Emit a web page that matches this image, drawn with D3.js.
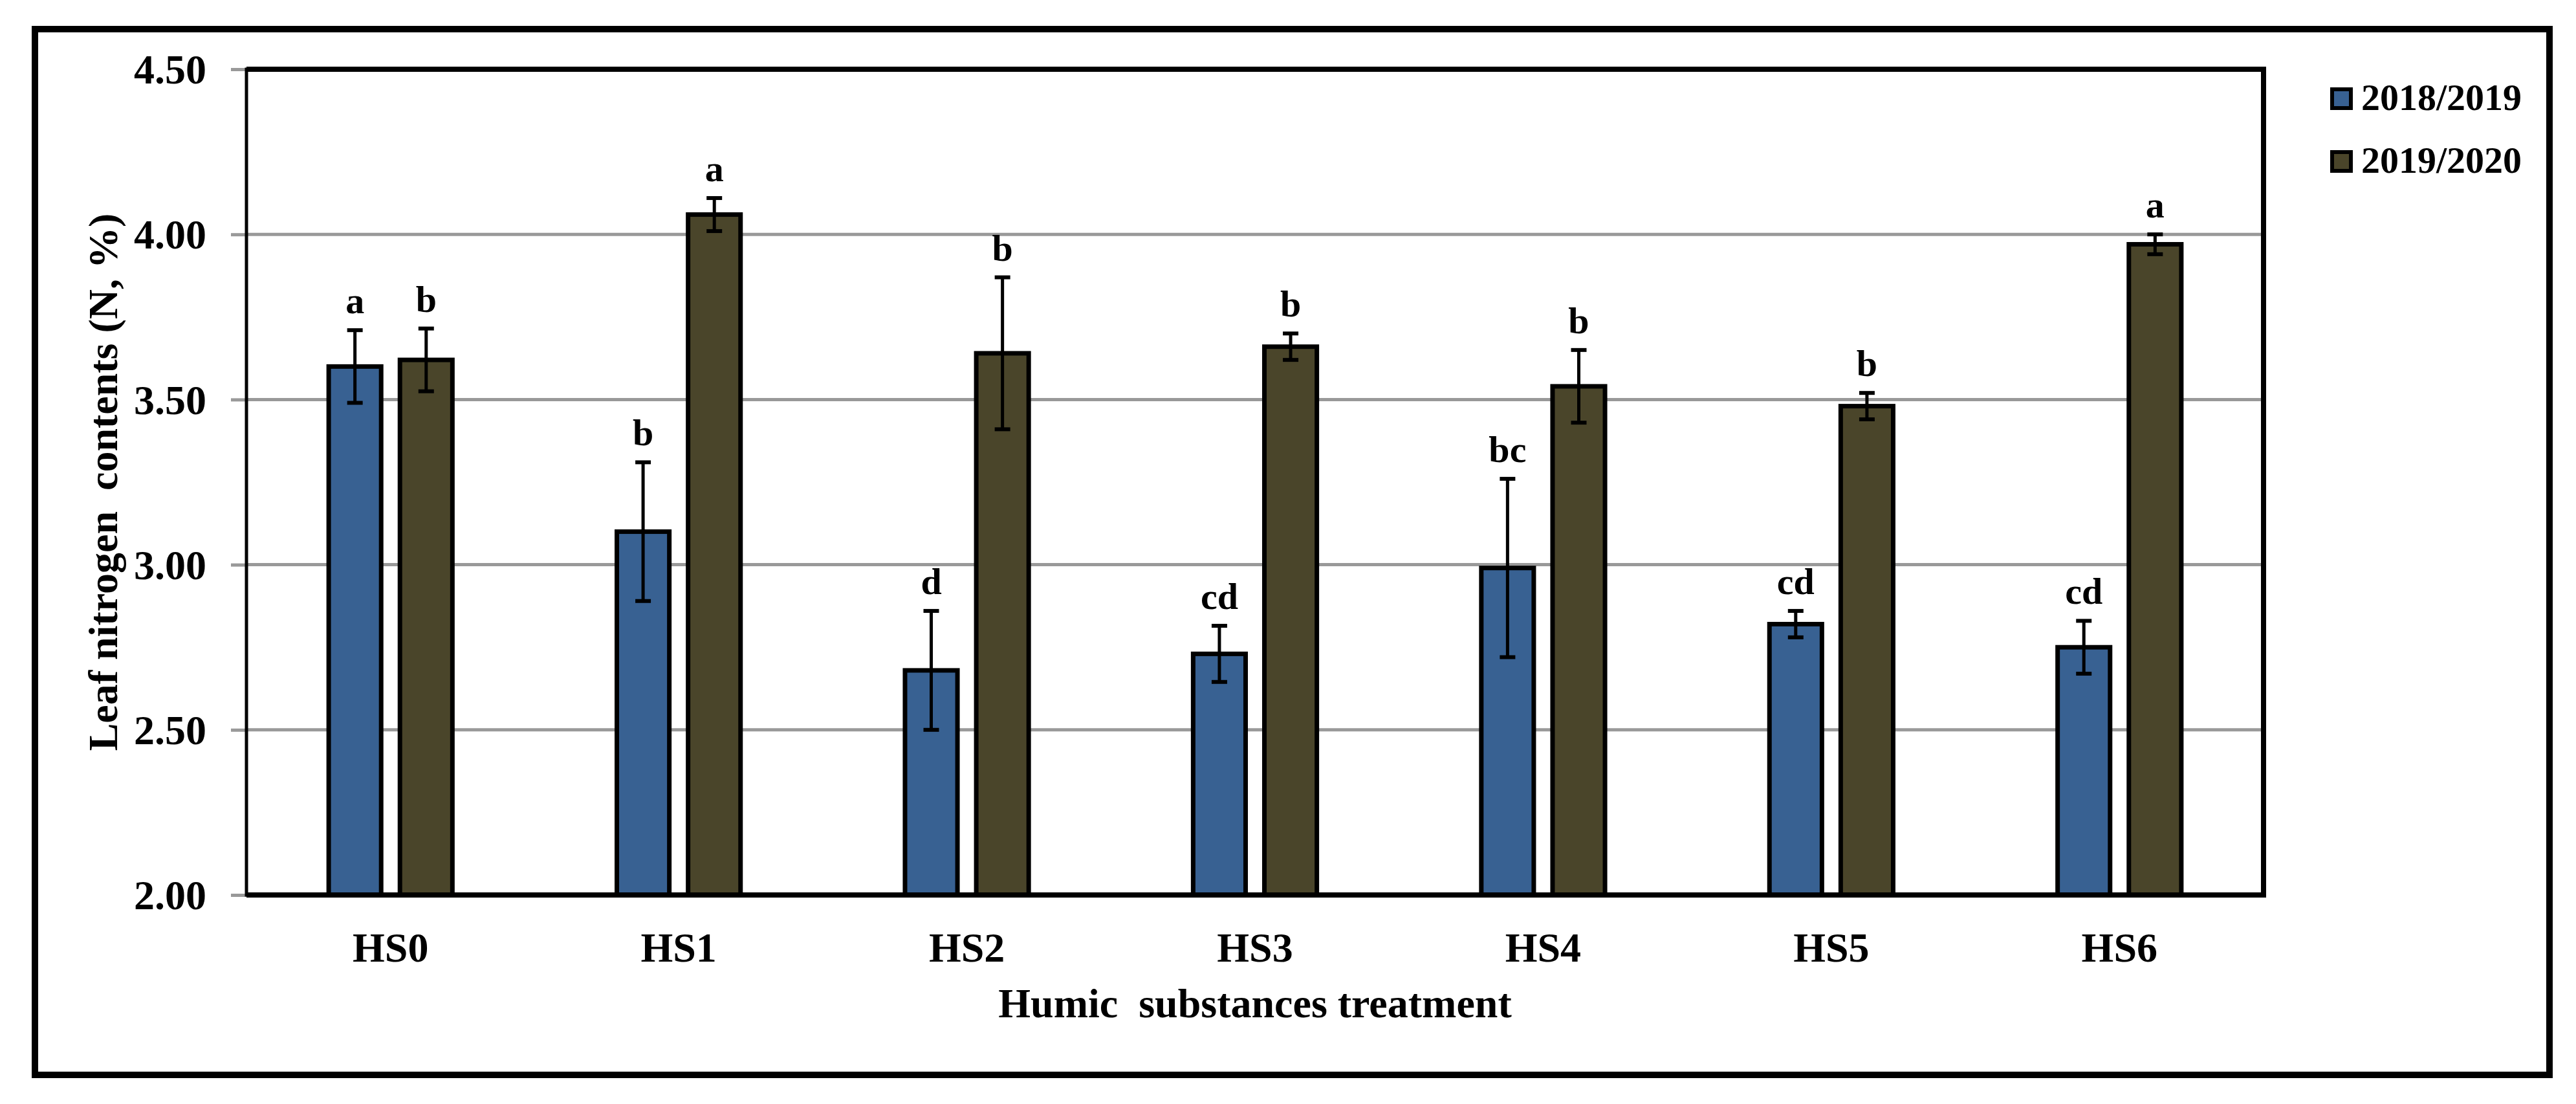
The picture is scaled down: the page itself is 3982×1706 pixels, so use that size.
<!DOCTYPE html>
<html lang="en">
<head>
  <meta charset="UTF-8">
  <title>Leaf nitrogen contents</title>
  <script src="https://d3js.org/d3.v7.min.js"></script>
  <style>
    body { margin: 0; background: #fff; }
    text { font-family: "Liberation Serif", "Times New Roman", serif; font-weight: bold; white-space: pre; }
  </style>
</head>
<body>
  <div id="chart"></div>
<script>
  // data
  const treatments = ['HS0', 'HS1', 'HS2', 'HS3', 'HS4', 'HS5', 'HS6'];
  const seasons = ['2018/2019', '2019/2020'];
  const season1 = [3.60, 3.10, 2.68, 2.73, 2.99, 2.82, 2.75];
  const season1Err = [0.11, 0.21, 0.18, 0.085, 0.27, 0.04, 0.08];
  const season1Letters = ['a', 'b', 'd', 'cd', 'bc', 'cd', 'cd'];
  const season2 = [3.62, 4.06, 3.64, 3.66, 3.54, 3.48, 3.97];
  const season2Err = [0.095, 0.05, 0.23, 0.04, 0.11, 0.04, 0.03];
  const season2Letters = ['b', 'a', 'b', 'b', 'b', 'b', 'a'];
  const yTicks = [2.0, 2.5, 3.0, 3.5, 4.0, 4.5];

  const colors = ['#386192', '#4a452a'];

  const W = 3982, H = 1706;
  const plot = { left: 381, right: 3499, top: 107, bottom: 1383 };

  const rows = treatments.map((t, i) => ({
    name: t,
    bars: [
      { s: seasons[0], v: season1[i], e: season1Err[i], l: season1Letters[i] },
      { s: seasons[1], v: season2[i], e: season2Err[i], l: season2Letters[i] }
    ]
  }));

  const svg = d3.select('#chart').append('svg')
    .attr('width', W)
    .attr('height', H)
    .style('display', 'block');

  svg.append('rect').attr('width', W).attr('height', H).attr('fill', '#fff');

  // outer frame
  svg.append('rect')
    .attr('x', 54).attr('y', 45)
    .attr('width', 3941 - 54).attr('height', 1661 - 45)
    .attr('fill', 'none')
    .attr('stroke', '#000')
    .attr('stroke-width', 10);

  const x0 = d3.scaleBand()
    .domain(treatments)
    .range([plot.left, plot.right])
    .paddingInner(0.555)
    .paddingOuter(0.2775);

  const x1 = d3.scaleBand()
    .domain(seasons)
    .range([0, x0.bandwidth()])
    .paddingInner(0.2);

  const y = d3.scaleLinear()
    .domain([2, 4.5])
    .range([plot.bottom, plot.top]);

  // gridlines + ticks
  const yAxis = d3.axisLeft(y)
    .tickValues(yTicks)
    .tickFormat(d3.format('.2f'))
    .tickSize(24)
    .tickPadding(38);

  const gy = svg.append('g')
    .attr('transform', `translate(${plot.left},0)`)
    .call(yAxis);
  gy.select('.domain').remove();
  gy.selectAll('line').attr('stroke', '#999').attr('stroke-width', 5);
  gy.selectAll('text')
    .attr('fill', '#000')
    .style('font-size', '64px')
    .attr('dy', '0.34em');

  svg.append('g')
    .selectAll('line')
    .data(yTicks.filter(d => d > 2 && d < 4.5))
    .join('line')
    .attr('x1', plot.left).attr('x2', plot.right)
    .attr('y1', d => y(d)).attr('y2', d => y(d))
    .attr('stroke', '#999')
    .attr('stroke-width', 5);

  // bars
  const groups = svg.append('g')
    .selectAll('g')
    .data(rows)
    .join('g')
    .attr('transform', d => `translate(${x0(d.name)},0)`);

  const sw = 7;
  groups.selectAll('rect')
    .data(d => d.bars)
    .join('rect')
    .attr('x', d => x1(d.s) + sw / 2)
    .attr('y', d => y(d.v))
    .attr('width', x1.bandwidth() - sw)
    .attr('height', d => y(2) - y(d.v))
    .attr('fill', (d, i) => colors[i])
    .attr('stroke', '#000')
    .attr('stroke-width', sw);

  // error bars
  const err = groups.selectAll('g.err')
    .data(d => d.bars)
    .join('g')
    .attr('class', 'err')
    .attr('transform', d => `translate(${x1(d.s) + x1.bandwidth() / 2},0)`);

  err.append('line')
    .attr('y1', d => y(d.v - d.e)).attr('y2', d => y(d.v + d.e))
    .attr('stroke', '#000').attr('stroke-width', 5);
  err.append('line')
    .attr('x1', -12).attr('x2', 12)
    .attr('y1', d => y(d.v + d.e)).attr('y2', d => y(d.v + d.e))
    .attr('stroke', '#000').attr('stroke-width', 6);
  err.append('line')
    .attr('x1', -12).attr('x2', 12)
    .attr('y1', d => y(d.v - d.e)).attr('y2', d => y(d.v - d.e))
    .attr('stroke', '#000').attr('stroke-width', 6);

  err.append('text')
    .attr('text-anchor', 'middle')
    .attr('y', d => y(d.v + d.e) - 26)
    .style('font-size', '58px')
    .text(d => d.l);

  // plot frame
  svg.append('rect')
    .attr('x', plot.left).attr('y', plot.top)
    .attr('width', plot.right - plot.left).attr('height', plot.bottom - plot.top)
    .attr('fill', 'none')
    .attr('stroke', '#000')
    .attr('stroke-width', 5);
  svg.append('path')
    .attr('d', `M${plot.left},${plot.top}H${plot.right}V${plot.bottom}H${plot.left}`)
    .attr('fill', 'none')
    .attr('stroke', '#000')
    .attr('stroke-width', 8);

  // x axis labels
  const xAxis = d3.axisBottom(x0).tickSize(0).tickPadding(58);
  const gx = svg.append('g')
    .attr('transform', `translate(0,${plot.bottom})`)
    .call(xAxis);
  gx.select('.domain').remove();
  gx.selectAll('text')
    .attr('fill', '#000')
    .style('font-size', '64px');

  // axis titles
  svg.append('text')
    .attr('x', (plot.left + plot.right) / 2)
    .attr('y', 1572)
    .attr('text-anchor', 'middle')
    .style('font-size', '64px')
    .text('Humic  substances treatment');

  svg.append('text')
    .attr('transform', `translate(181,${(plot.top + plot.bottom) / 2}) rotate(-90)`)
    .attr('text-anchor', 'middle')
    .style('font-size', '64px')
    .text('Leaf nitrogen  contents (N, %)');

  // legend
  const legend = svg.append('g')
    .selectAll('g')
    .data(seasons)
    .join('g')
    .attr('transform', (d, i) => `translate(3602,${135 + i * 97})`);

  legend.append('rect')
    .attr('x', 3).attr('y', 3)
    .attr('width', 29).attr('height', 29)
    .attr('fill', (d, i) => colors[i])
    .attr('stroke', '#000')
    .attr('stroke-width', 6);

  legend.append('text')
    .attr('x', 48)
    .attr('y', 35)
    .style('font-size', '58px')
    .text(d => d);
</script>
</body>
</html>
